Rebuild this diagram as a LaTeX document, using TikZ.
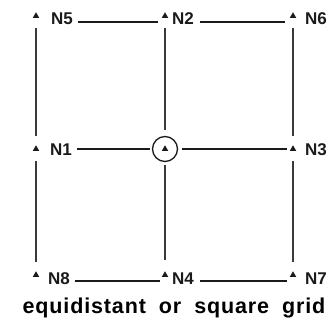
\documentclass[tikz,border=0pt]{standalone}
\usepackage{fontspec}
\setmainfont{Liberation Sans}
\usepackage{xcolor}
\usetikzlibrary{shapes.geometric,positioning}
\definecolor{gridInk}{HTML}{1A1A1A}
\definecolor{gridRule}{HTML}{3A3A3A}

\begin{document}
\begin{tikzpicture}[
  x=1pt,y=-1pt,
  font=\bfseries\fontsize{17}{19}\selectfont,
  pin/.style={regular polygon,regular polygon sides=3,fill=gridInk,inner sep=0pt,minimum size=7.5pt},
  lbl/.style={anchor=west,inner sep=0pt,text=gridInk},
  link/.style={gridInk,line width=1.4pt},
  vlink/.style={gridRule,line width=1.1pt,shorten <=10pt,shorten >=9pt}
]
\useasboundingbox (0,0) rectangle (334,321);
% grid points
\node[pin] (N5) at (36,16)  {};
\node[pin] (N2) at (165,16) {};
\node[pin] (N6) at (293,16) {};
\node[pin] (N1) at (36,149)  {};
\node[pin] (N0) at (165,149) {};
\node[pin] (N3) at (293,149) {};
\node[pin] (N8) at (36,275)  {};
\node[pin] (N4) at (165,275) {};
\node[pin] (N7) at (293,275) {};
\node[draw=gridInk,circle,line width=1.3pt,minimum size=25pt,inner sep=0pt] (ring) at (N0) {};
% labels
\node[lbl] (tN5) at (51,19)   {N5};
\node[lbl] (tN2) at (172,19)  {N2};
\node[lbl] (tN6) at (305,19)  {N6};
\node[lbl] (tN1) at (50,150)  {N1};
\node[lbl] (tN3) at (305,150) {N3};
\node[lbl] (tN8) at (48,279)  {N8};
\node[lbl] (tN4) at (172,279) {N4};
\node[lbl] (tN7) at (305,279) {N7};
% rows
\draw[link,shorten <=5pt,shorten >=5pt] ([yshift=-3pt]tN5.east) -- ([yshift=-3pt]tN5.east -| N2.west);
\draw[link,shorten <=6pt,shorten >=6pt] ([yshift=-3pt]tN2.east) -- ([yshift=-3pt]tN2.east -| N6.west);
\draw[link,shorten <=5pt,shorten >=2pt] ([yshift=1pt]tN1.east) -- ([yshift=1pt]tN1.east -| ring.west);
\draw[link,shorten <=4pt,shorten >=4pt] (ring.east) -- (N3.west);
\draw[link,shorten <=5pt,shorten >=3pt] ([yshift=-2pt]tN8.east) -- ([yshift=-2pt]tN8.east -| N4.west);
\draw[link,shorten <=6pt,shorten >=4pt] ([yshift=-2pt]tN4.east) -- ([yshift=-2pt]tN4.east -| N7.west);
% columns
\draw[vlink] (N5) -- (N1);
\draw[vlink] (N1) -- (N8);
\draw[vlink,shorten >=6pt] (N2) -- (ring.north);
\draw[vlink,shorten <=3pt,shorten >=11pt] (ring.south) -- (N4);
\draw[vlink] (N6) -- (N3);
\draw[vlink] (N3) -- (N7);
\node[anchor=base,inner sep=0pt,font=\bfseries\fontsize{21.5}{24}\selectfont\addfontfeature{LetterSpace=4}] (cap) at (174,313) {\spaceskip=13pt equidistant or square grid};
\end{tikzpicture}
\end{document}
